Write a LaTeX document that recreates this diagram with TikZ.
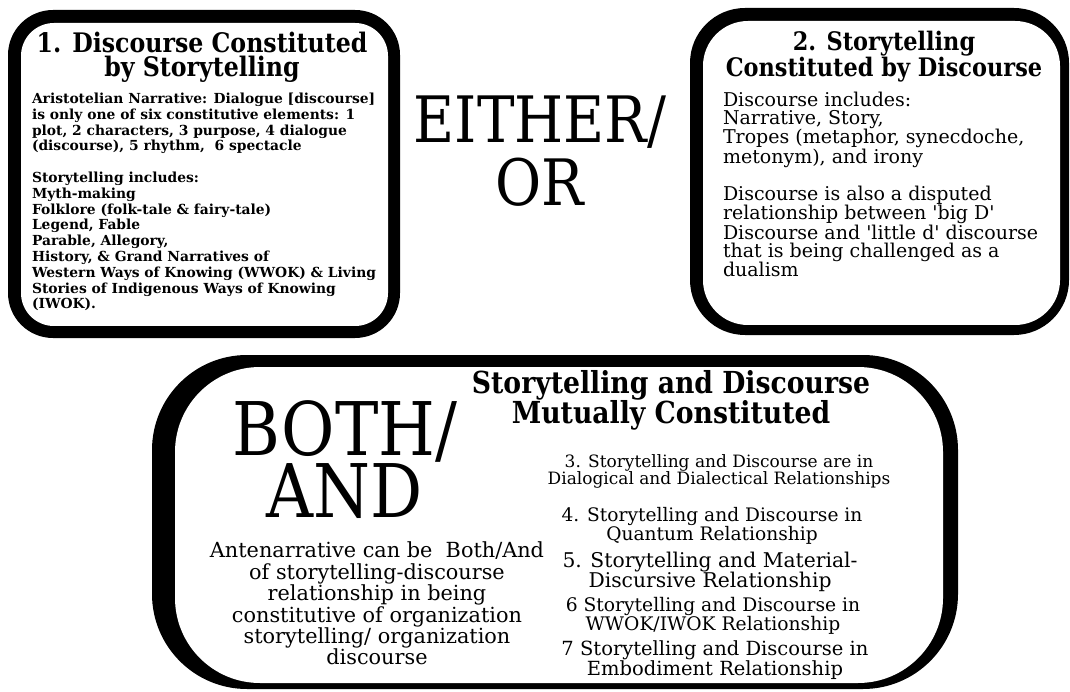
\documentclass[tikz,border=0pt]{standalone}
\usepackage{fontspec}
\setmainfont{DejaVu Serif}
\newfontfamily\narrowfont{DejaVu Serif}[FakeStretch=0.88]
\begin{document}
\begin{tikzpicture}[x=1pt,y=-1pt,
  txt/.style={inner sep=0pt, outer sep=0pt},
  fs/.style 2 args={font=\fontsize{#1}{#2}\selectfont},
  bfs/.style 2 args={font=\bfseries\fontsize{#1}{#2}\selectfont},
  nfs/.style 2 args={font=\narrowfont\fontsize{#1}{#2}\selectfont},
  nbfs/.style 2 args={font=\narrowfont\bfseries\fontsize{#1}{#2}\selectfont},
  item/.style={txt, anchor=north, align=center}]
\useasboundingbox (0,0) rectangle (1070,692);
\fill[white] (0,0) rectangle (1070,692);

% box 1 frame
\fill[black, rounded corners=45] (8,10) rectangle (400,338);
\fill[white, rounded corners=33] (21,23) rectangle (388,326);
% box 2 frame
\fill[black, rounded corners=55] (690,8) rectangle (1069,335);
\fill[white, rounded corners=45] (703,21) rectangle (1060,325);
% bottom frame
\fill[black, rounded corners=95] (152,355) rectangle (958,689);
\fill[white, rounded corners=85] (175,367) rectangle (943,683);

% box 1 text
\node[txt, anchor=north, align=center, nbfs={26.9}{24}] (t1) at (202,32)
  {1. Discourse Constituted\\by Storytelling};
\node[txt, anchor=north west, align=left, bfs={13.85}{15.8}] (b1) at (32,93)
  {Aristotelian Narrative: Dialogue [discourse]\\
   is only one of six constitutive elements: 1\\
   plot, 2 characters, 3 purpose, 4 dialogue\\
   (discourse), 5 rhythm,\ \ 6 spectacle\\[15.8pt]
   Storytelling includes:\\
   Myth-making\\
   Folklore (folk-tale \& fairy-tale)\\
   Legend, Fable\\
   Parable, Allegory,\\
   History, \& Grand Narratives of\\
   Western Ways of Knowing (WWOK) \& Living\\
   Stories of Indigenous Ways of Knowing\\
   (IWOK).};

% box 2 text
\node[txt, anchor=north, align=center, nbfs={25.5}{25}] (t2) at (884,31)
  {2. Storytelling\\Constituted by Discourse};
\node[txt, anchor=north west, align=left, fs={19}{17.6}] (b2) at (723,92)
  {Discourse includes:\\
   Narrative, Story,\\
   Tropes (metaphor, synecdoche,\\
   metonym), and irony\\[17.6pt]
   Discourse is also a disputed\\
   relationship between \textquotesingle big D\textquotesingle\\
   Discourse and \textquotesingle little d\textquotesingle\ discourse\\
   that is being challenged as a\\
   dualism};

% either / or
\node[txt, anchor=north, align=center, nfs={64}{63}] (eo) at (540,96) {EITHER/\\OR};

% both / and
\node[txt, anchor=north, align=center, nfs={74}{62}] (ba) at (345,401) {BOTH/\\AND};
\node[txt, anchor=north, align=center, fs={20.8}{21.4}] (ante) at (377,542)
  {Antenarrative can be\ \ Both/And\\
   of storytelling-discourse\\
   relationship in being\\
   constitutive of organization\\
   storytelling/ organization\\
   discourse};

% mutually constituted column
\node[txt, anchor=north, align=center, nbfs={30.3}{28}] (t3) at (671,370)
  {Storytelling and Discourse\\Mutually Constituted};
\node[item, fs={17}{17}] (i3) at (719,455)
  {3. Storytelling and Discourse are in\\Dialogical and Dialectical Relationships};
\node[item, fs={18.6}{17}] (i4) at (712,507)
  {4. Storytelling and Discourse in\\Quantum Relationship};
\node[item, fs={20.3}{20}] (i5) at (710,551.6)
  {5. Storytelling and Material-\\Discursive Relationship};
\node[item, fs={18.7}{18}] (i6) at (713,596.8)
  {6 Storytelling and Discourse in\\WWOK/IWOK Relationship};
\node[item, fs={19.5}{18}] (i7) at (715,641)
  {7 Storytelling and Discourse in\\Embodiment Relationship};
\end{tikzpicture}
\end{document}
